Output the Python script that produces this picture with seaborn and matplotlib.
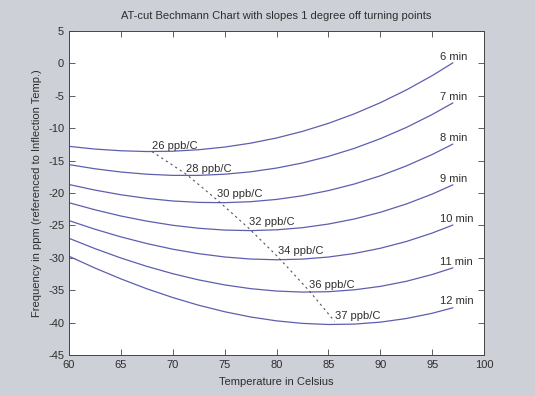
import matplotlib
matplotlib.use("Agg")
import matplotlib.pyplot as plt
import seaborn as sns
import pandas as pd

temps = [60, 62.5, 65, 67.5, 70, 72.5, 75, 77.5, 80, 82.5, 85, 87.5, 90, 92.5, 95, 97]

# frequency (ppm) for each cut angle
f_6min = [-12.80, -13.22, -13.48, -13.60, -13.55, -13.32, -12.91, -12.31,
          -11.51, -10.49, -9.25, -7.78, -6.07, -4.11, -1.89, 0.09]
f_7min = [-15.62, -16.26, -16.76, -17.10, -17.28, -17.28, -17.10, -16.73,
          -16.15, -15.36, -14.35, -13.11, -11.62, -9.89, -7.89, -6.10]
f_8min = [-18.69, -19.55, -20.27, -20.83, -21.23, -21.45, -21.49, -21.34,
          -20.99, -20.42, -19.63, -18.61, -17.35, -15.83, -14.06, -12.45]
f_9min = [-21.50, -22.59, -23.55, -24.34, -24.98, -25.44, -25.72, -25.80,
          -25.68, -25.35, -24.79, -24.01, -22.98, -21.70, -20.17, -18.74]
f_10min = [-24.26, -25.59, -26.77, -27.80, -28.67, -29.36, -29.87, -30.19,
           -30.30, -30.20, -29.88, -29.33, -28.53, -27.49, -26.18, -24.94]
f_11min = [-26.99, -28.58, -30.03, -31.32, -32.45, -33.41, -34.18, -34.76,
           -35.13, -35.29, -35.23, -34.94, -34.41, -33.63, -32.58, -31.55]
f_12min = [-29.76, -31.58, -33.25, -34.78, -36.13, -37.32, -38.32, -39.13,
           -39.73, -40.12, -40.29, -40.23, -39.93, -39.37, -38.56, -37.71]

cut_labels = ["6 min", "7 min", "8 min", "9 min", "10 min", "11 min", "12 min"]
curves = [f_6min, f_7min, f_8min, f_9min, f_10min, f_11min, f_12min]

# turning points joined by the dashed line, with their slope labels
turn_t = [68.0, 71.3, 74.3, 77.3, 80.1, 83.1, 85.6]
turn_f = [-13.6, -17.1, -21.1, -25.4, -29.8, -35.0, -39.8]
slope_labels = ["26 ppb/C", "28 ppb/C", "30 ppb/C", "32 ppb/C",
                "34 ppb/C", "36 ppb/C", "37 ppb/C"]

sns.set_style("ticks")
plt.rcParams["font.family"] = ["Liberation Sans", "DejaVu Sans"]
plt.rcParams["axes.unicode_minus"] = False

rows = []
for lab, vals in zip(cut_labels, curves):
    for t, v in zip(temps, vals):
        rows.append({"temp": t, "freq": v, "cut": lab})
df = pd.DataFrame(rows)

fig = plt.figure(figsize=(5.35, 3.96), dpi=100, facecolor="#cdd0d6")
ax = fig.add_axes([0.129, 0.1035, 0.7757, 0.8182])
ax.set_facecolor("white")

line_col = "#5e5eb0"
txt_col = "#2e2e2e"
sns.lineplot(data=df, x="temp", y="freq", units="cut", estimator=None,
             color=line_col, linewidth=0.9, ax=ax, legend=False)

sns.lineplot(x=turn_t, y=turn_f, color="#555555", linewidth=0.8,
             linestyle=(0, (2, 3)), ax=ax, sort=False, legend=False)

for lab, vals in zip(cut_labels, curves):
    ax.text(95.8, vals[-1] + 0.2, lab, fontsize=8, color=txt_col,
            ha="left", va="bottom")

for t, f, lab in zip(turn_t, turn_f, slope_labels):
    ax.text(t, f + 0.1, lab, fontsize=8, color=txt_col,
            ha="left", va="bottom")

ax.set_xlim(60, 100)
ax.set_ylim(-45, 5)
ax.set_xticks(range(60, 101, 5))
ax.set_yticks(range(-45, 6, 5))
ax.tick_params(direction="in", top=True, right=True, length=4,
               labelsize=8, labelcolor=txt_col, color="#444444", width=0.6)
for sp in ax.spines.values():
    sp.set_color("#444444")
    sp.set_linewidth(0.7)

ax.set_xlabel("Temperature in Celsius", fontsize=8, color=txt_col, labelpad=5)
ax.set_ylabel("Frequency in ppm (referenced to Inflection Temp.)",
              fontsize=8, color=txt_col, labelpad=4)
ax.set_title("AT-cut Bechmann Chart with slopes 1 degree off turning points",
             fontsize=8, color=txt_col, pad=9)

fig.savefig("out.png", dpi=100, facecolor=fig.get_facecolor())
